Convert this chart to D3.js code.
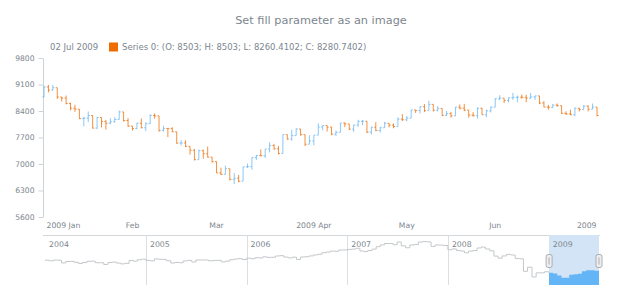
<!DOCTYPE html>
<html lang="en">
<head>
    <meta charset="UTF-8">
    <title>Set fill parameter as an image</title>
    <script src="https://d3js.org/d3.v7.min.js"></script>
    <style>
        body { margin: 0; background: #fff; }
        svg { display: block; font-family: "DejaVu Sans", Verdana, sans-serif; }
        .lbl { fill: #7c868e; }
    </style>
</head>
<body>
<div id="chart"></div>
<script>
    // main series: daily OHLC, Jan 2 - Jul 2 2009
    var dates = [
        "2009-01-02","2009-01-05","2009-01-06","2009-01-07","2009-01-08","2009-01-09","2009-01-12","2009-01-13","2009-01-14","2009-01-15",
        "2009-01-16","2009-01-20","2009-01-21","2009-01-22","2009-01-23","2009-01-26","2009-01-27","2009-01-28","2009-01-29","2009-01-30",
        "2009-02-02","2009-02-03","2009-02-04","2009-02-05","2009-02-06","2009-02-09","2009-02-10","2009-02-11","2009-02-12","2009-02-13",
        "2009-02-17","2009-02-18","2009-02-19","2009-02-20","2009-02-23","2009-02-24","2009-02-25","2009-02-26","2009-02-27",
        "2009-03-02","2009-03-03","2009-03-04","2009-03-05","2009-03-06","2009-03-09","2009-03-10","2009-03-11","2009-03-12","2009-03-13",
        "2009-03-16","2009-03-17","2009-03-18","2009-03-19","2009-03-20","2009-03-23","2009-03-24","2009-03-25","2009-03-26","2009-03-27",
        "2009-03-30","2009-03-31",
        "2009-04-01","2009-04-02","2009-04-03","2009-04-06","2009-04-07","2009-04-08","2009-04-09","2009-04-13","2009-04-14","2009-04-15",
        "2009-04-16","2009-04-17","2009-04-20","2009-04-21","2009-04-22","2009-04-23","2009-04-24","2009-04-27","2009-04-28","2009-04-29",
        "2009-04-30",
        "2009-05-01","2009-05-04","2009-05-05","2009-05-06","2009-05-07","2009-05-08","2009-05-11","2009-05-12","2009-05-13","2009-05-14",
        "2009-05-15","2009-05-18","2009-05-19","2009-05-20","2009-05-21","2009-05-22","2009-05-26","2009-05-27","2009-05-28","2009-05-29",
        "2009-06-01","2009-06-02","2009-06-03","2009-06-04","2009-06-05","2009-06-08","2009-06-09","2009-06-10","2009-06-11","2009-06-12",
        "2009-06-15","2009-06-16","2009-06-17","2009-06-18","2009-06-19","2009-06-22","2009-06-23","2009-06-24","2009-06-25","2009-06-26",
        "2009-06-29","2009-06-30","2009-07-01","2009-07-02"
    ];
    var opens = [
        8772,9035,8953,9015,8770,8742,8599,8474,8449,8200, 8212,8281,7949,8228,8123,8078,8116,8175,8375,8149,
        8001,7937,8078,7957,8063,8281,8271,7889,7940,7933, 7850,7553,7556,7466,7366,7115,7351,7271,7182,
        7063,6763,6726,6876,6594,6627,6547,6926,6930,7170, 7224,7217,7396,7487,7401,7278,7776,7660,7750,7925, 7776,7522,
        7609,7762,7978,8018,7976,7790,7837,8083,8058,7920, 8030,8125,8131,7842,7970,7887,7957,8076,8025,7989, 8186,
        8168,8212,8427,8411,8512,8410,8575,8419,8469,8285, 8331,8269,8504,8475,8422,8292,8277,8473,8300,8404,
        8500,8721,8741,8675,8750,8763,8764,8763,8739,8771, 8799,8612,8505,8497,8556,8540,8339,8323,8300,8472,
        8438,8529,8447,8503
    ];
    var highs = [
        9065,9088,9088,9015,8770,8807,8618,8565,8449,8247, 8387,8282,8244,8228,8166,8211,8237,8410,8375,8213,
        8001,8089,8202,8106,8316,8336,8271,8012,7940,7973, 7850,7630,7630,7466,7393,7381,7382,7458,7182,
        7063,6903,6958,6876,6758,6709,6926,7011,7170,7239, 7384,7395,7573,7532,7474,7776,7776,7904,7944,7925, 7776,7760,
        7762,8075,8017,8018,7976,7882,8084,8094,8058,8034, 8167,8166,8131,7984,8105,7982,8112,8076,8070,8232, 8316,
        8268,8439,8427,8527,8583,8669,8575,8528,8469,8403, 8375,8505,8573,8588,8422,8370,8496,8485,8436,8519,
        8740,8819,8741,8758,8878,8808,8837,8829,8877,8800, 8799,8658,8563,8582,8601,8540,8391,8434,8495,8482,
        8558,8550,8596,8503
    ];
    var lows = [
        8761,8892,8940,8719,8651,8576,8414,8377,8185,7995, 8105,7939,7927,7964,7909,8050,8094,8175,8120,7979,
        7884,7919,7946,7867,8057,8199,7852,7856,7710,7844, 7532,7490,7447,7249,7094,7115,7137,7168,7036,
        6763,6705,6726,6565,6470,6517,6547,6898,6850,7106, 7208,7159,7308,7376,7252,7278,7641,7617,7750,7747, 7473,7522,
        7493,7762,7889,7858,7762,7741,7837,7975,7898,7848, 7985,8028,7817,7777,7867,7830,7957,7967,7943,7989, 8136,
        8129,8212,8348,8335,8370,8410,8386,8390,8265,8267, 8223,8269,8443,8396,8223,8250,8197,8299,8235,8362,
        8500,8687,8610,8630,8692,8631,8722,8631,8731,8693, 8580,8497,8433,8479,8513,8321,8295,8293,8264,8386,
        8438,8388,8447,8260.4102
    ];
    var closes = [
        9035,8953,9015,8770,8742,8599,8474,8449,8200,8212, 8281,7949,8228,8123,8078,8116,8175,8375,8149,8001,
        7937,8078,7957,8063,8281,8271,7889,7940,7933,7850, 7553,7556,7466,7366,7115,7351,7271,7182,7063,
        6763,6726,6876,6594,6627,6547,6926,6930,7170,7224, 7217,7396,7487,7401,7278,7776,7660,7750,7925,7776, 7522,7609,
        7762,7978,8018,7976,7790,7837,8083,8058,7920,8030, 8125,8131,7842,7970,7887,7957,8076,8025,7989,8186, 8168,
        8212,8427,8411,8512,8410,8575,8419,8469,8285,8331, 8269,8504,8475,8422,8292,8277,8473,8300,8404,8500,
        8721,8741,8675,8750,8763,8764,8763,8739,8771,8799, 8612,8505,8497,8556,8540,8339,8323,8300,8472,8438,
        8529,8447,8504,8280.7402
    ];
    var yTicks = [5600, 6300, 7000, 7700, 8400, 9100, 9800];
    var xTickDates = ["2009-01-02", "2009-02-02", "2009-03-02", "2009-04-01", "2009-05-01", "2009-06-01", "2009-07-01"];
    var xTickLabels = ["2009 Jan", "Feb", "Mar", "2009 Apr", "May", "Jun", "2009"];

    // scroller series: half-month values Jan 2004 - Jun 2009, last point Jul 2 2009
    var scrollValues = [
        10600,10488,10628,10584,10102,10358,10380,10226,10013,10188,10400,10435,10140,10140,9825,10174,10245,10080,9933,10027,10550,10428,10691,10783,
        10558,10490,10837,10766,10745,10504,10088,10193,10140,10467,10566,10275,10641,10641,10634,10482,10558,10569,10287,10440,10686,10806,10881,10718,
        10960,10865,11058,10993,11209,11109,11137,11367,11420,11168,11015,11150,10739,11186,11230,11381,11560,11679,11960,12081,12251,12222,12446,12463,
        12556,12622,12765,12269,12159,12354,12612,13063,13383,13628,13639,13409,13907,13212,12861,13358,13442,13896,13985,13930,13110,13372,13339,13265,
        12501,12650,12348,12266,11951,12263,12362,12820,12992,12638,12307,11350,10963,11378,11659,11544,10917,10851,8578,9325,7550,8300,8300,8500,
        8330,8200,7800,7420,7420,7960,8050,8150,8580,8760,8760,8700,8700
    ];
    var scrollYears = [2004, 2005, 2006, 2007, 2008, 2009];

    var parse = d3.timeParse("%Y-%m-%d");
    var width = 620, height = 300;
    var svg = d3.select("#chart").append("svg").attr("width", width).attr("height", height);

    // title
    svg.append("text").attr("class", "lbl")
        .attr("x", 321).attr("y", 24)
        .attr("text-anchor", "middle")
        .style("font-size", "11.3px")
        .text("Set fill parameter as an image");

    // legend
    var last = dates.length - 1;
    svg.append("text").attr("class", "lbl")
        .attr("x", 50).attr("y", 50)
        .style("font-size", "8.5px")
        .text(d3.timeFormat("%d %b %Y")(parse(dates[last])));
    svg.append("rect")
        .attr("x", 109).attr("y", 42.5).attr("width", 9).attr("height", 9)
        .attr("fill", "#ef6c00");
    svg.append("text").attr("class", "lbl")
        .attr("x", 122).attr("y", 50)
        .style("font-size", "8.5px")
        .text("Series 0: (O: " + opens[last] + "; H: " + highs[last] + "; L: " + lows[last] + "; C: " + closes[last] + ")");

    // main plot scales
    var x = d3.scalePoint().domain(dates).range([44, 597]);
    var y = d3.scaleLinear().domain([5600, 9800]).range([217, 58]);

    var yAxis = svg.append("g")
        .attr("transform", "translate(43,0)")
        .call(d3.axisLeft(y).tickValues(yTicks).tickFormat(d3.format("d"))
            .tickSize(4.5).tickSizeOuter(0).tickPadding(4));
    yAxis.select(".domain").attr("stroke", "#cfd3d6");
    yAxis.selectAll(".tick line").attr("stroke", "#cfd3d6");
    yAxis.selectAll(".tick text").attr("fill", "#7c868e")
        .style("font-size", "7.6px").style("font-family", "DejaVu Sans, sans-serif");

    // x labels, centred on the month's first trading day but kept inside the plot
    var xLabels = svg.append("g");
    xTickDates.forEach(function(d, i) {
        var t = xLabels.append("text").attr("class", "lbl")
            .attr("y", 228)
            .style("font-size", "7.7px")
            .text(xTickLabels[i]);
        var w = t.node().getComputedTextLength();
        var cx = x(d);
        var left = cx - w / 2;
        if (left < 46.5) left = 46.5;
        if (left + w > 596.5) left = 596.5 - w;
        t.attr("x", left);
    });

    // OHLC bars
    var hw = 1.6;
    svg.append("g").selectAll("path")
        .data(dates)
        .join("path")
        .attr("fill", "none")
        .attr("stroke-width", 1)
        .attr("stroke-opacity", 0.75)
        .attr("stroke", function(d, i) { return closes[i] >= opens[i] ? "#64b5f6" : "#ef6c00"; })
        .attr("d", function(d, i) {
            var cx = x(d);
            return "M" + cx + "," + y(highs[i]) + "V" + y(lows[i]) +
                "M" + (cx - hw) + "," + y(opens[i]) + "H" + cx +
                "M" + cx + "," + y(closes[i]) + "H" + (cx + hw);
        });

    // scroller
    var sTop = 235, sBottom = 285;
    var scrollDates = [];
    for (var yr = 2004; yr <= 2009; yr++) {
        var lastMonth = yr === 2009 ? 5 : 11;
        for (var m = 0; m <= lastMonth; m++) {
            scrollDates.push(new Date(yr, m, 1));
            scrollDates.push(new Date(yr, m, 16));
        }
    }
    scrollDates.push(new Date(2009, 6, 2));

    var sx = d3.scaleTime().domain([new Date(2004, 0, 1), new Date(2009, 6, 2)]).range([45, 599]);
    var sy = d3.scaleLinear().domain([6090, 15180]).range([sBottom, sTop]);

    var scroller = svg.append("g");
    scroller.append("line")
        .attr("x1", 43).attr("x2", 600).attr("y1", sTop + 0.5).attr("y2", sTop + 0.5)
        .attr("stroke", "#d5d8da");

    scrollYears.forEach(function(yrv, i) {
        var xx = sx(new Date(yrv, 0, 1));
        if (i > 0) {
            scroller.append("line")
                .attr("x1", Math.round(xx) + 0.5).attr("x2", Math.round(xx) + 0.5)
                .attr("y1", sTop).attr("y2", sBottom)
                .attr("stroke", "#dcdfe1");
        }
    });

    scroller.append("path")
        .datum(scrollValues)
        .attr("fill", "none")
        .attr("stroke", "#c4c7ca")
        .attr("stroke-width", 1)
        .attr("d", d3.line()
            .x(function(d, i) { return sx(scrollDates[i]); })
            .y(function(d) { return sy(d); })
            .curve(d3.curveStepAfter));

    // selected range
    var selX0 = sx(parse(dates[0])), selX1 = sx(parse(dates[last]));
    scroller.append("rect")
        .attr("x", selX0).attr("y", sTop).attr("width", selX1 - selX0).attr("height", sBottom - sTop)
        .attr("fill", "#d3e4f6");
    scroller.append("clipPath").attr("id", "selClip")
        .append("rect")
        .attr("x", selX0).attr("y", sTop).attr("width", selX1 - selX0).attr("height", sBottom - sTop);
    scroller.append("path")
        .datum(scrollValues)
        .attr("clip-path", "url(#selClip)")
        .attr("fill", "#64b5f6")
        .attr("d", d3.area()
            .x(function(d, i) { return sx(scrollDates[i]); })
            .y0(sBottom)
            .y1(function(d) { return sy(d); })
            .curve(d3.curveStepAfter));

    scrollYears.forEach(function(yrv) {
        scroller.append("text").attr("class", "lbl")
            .attr("x", sx(new Date(yrv, 0, 1)) + 4).attr("y", 247)
            .style("font-size", "7.8px")
            .text(yrv);
    });

    // range handles
    [selX0, selX1].forEach(function(hx) {
        var hg = scroller.append("g").attr("transform", "translate(" + hx + ",261)");
        hg.append("rect")
            .attr("x", -3).attr("y", -6.5).attr("width", 6).attr("height", 13).attr("rx", 2)
            .attr("fill", "#eeeeee").attr("stroke", "#9a9ea2").attr("stroke-width", 0.8);
        hg.append("line")
            .attr("x1", 0).attr("x2", 0).attr("y1", -3.5).attr("y2", 3.5)
            .attr("stroke", "#9a9ea2").attr("stroke-width", 0.8);
    });
</script>
</body>
</html>
